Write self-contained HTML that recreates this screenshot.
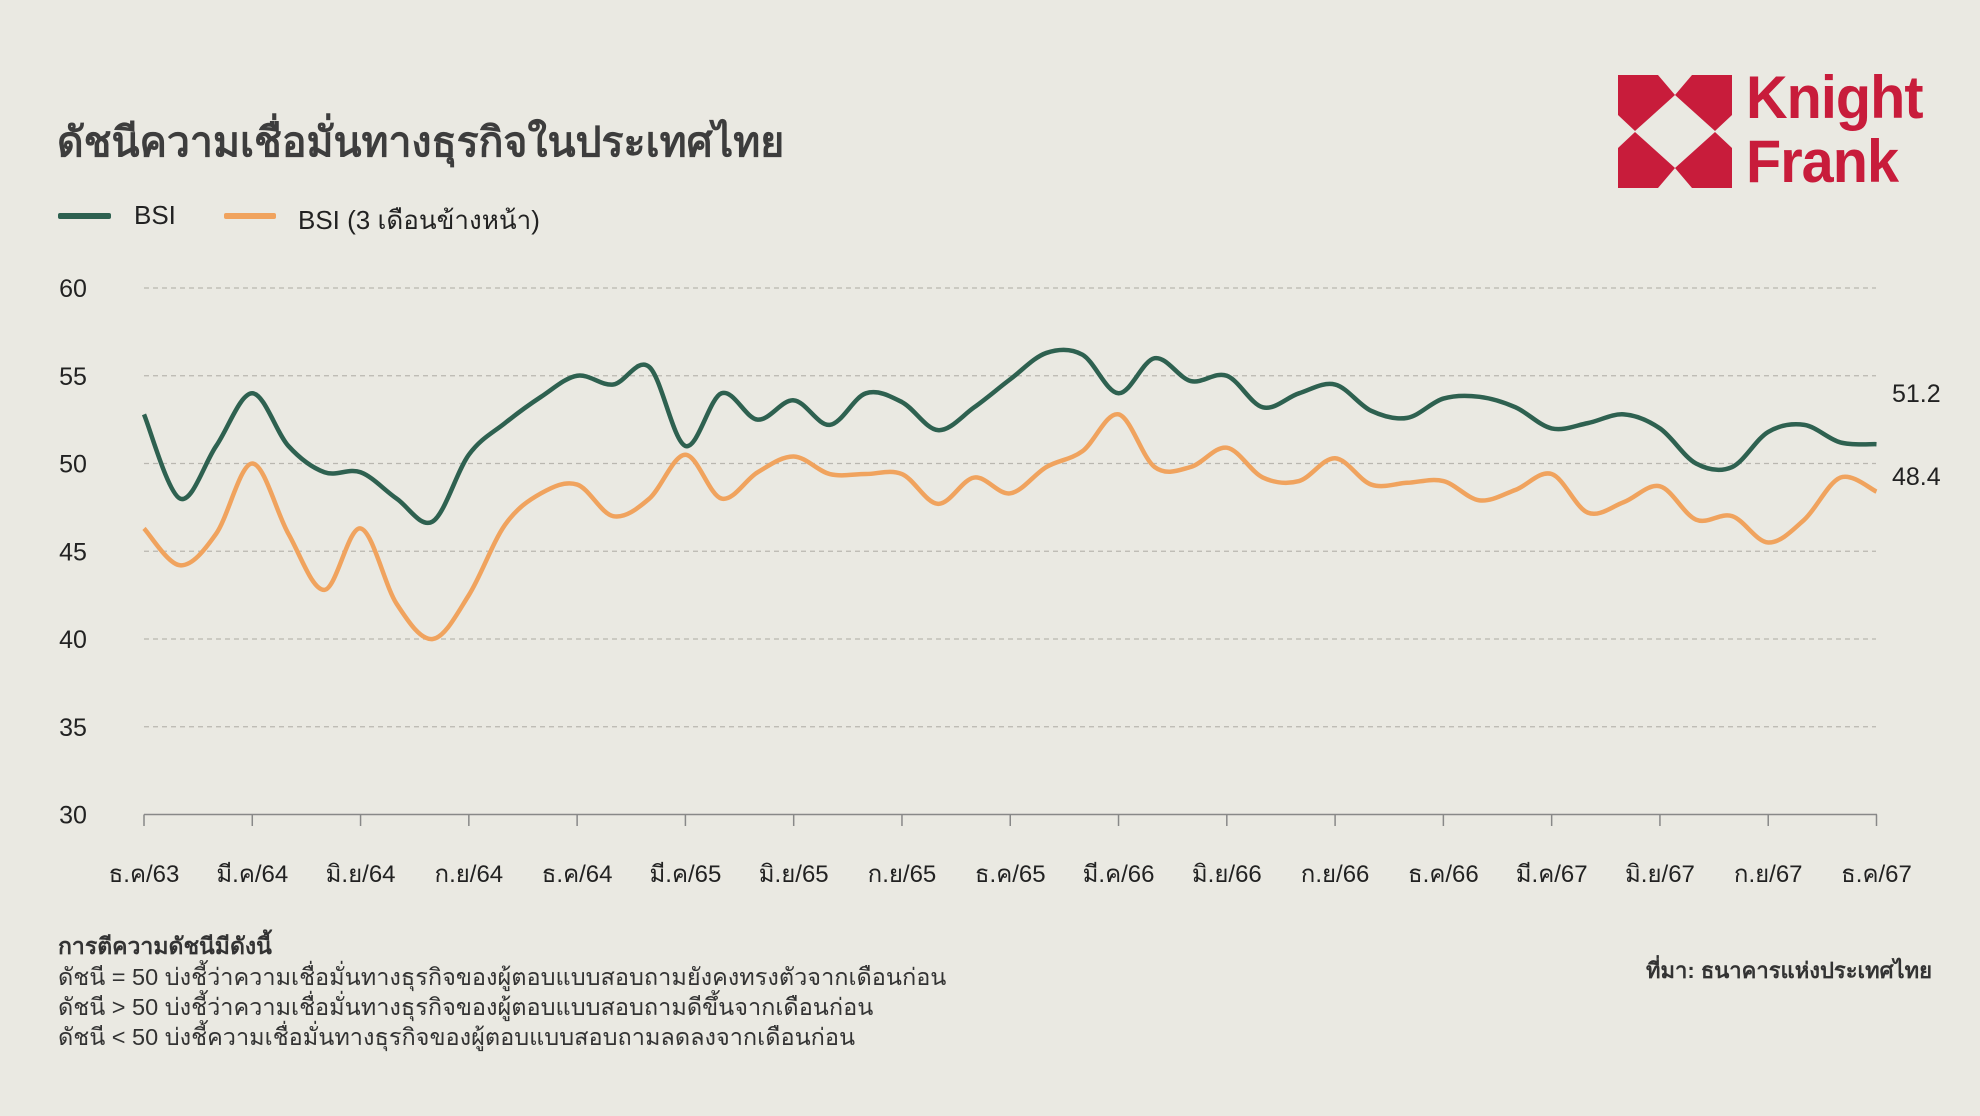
<!DOCTYPE html>
<html><head><meta charset="utf-8">
<style>
body{margin:0;width:1980px;height:1116px;background:#eae9e2;font-family:"Liberation Sans","DejaVu Sans",sans-serif;overflow:hidden;position:relative;color:#222}
.t{position:absolute;white-space:nowrap}
</style></head><body>
<div class="t" style="left:57px;top:110px;font-size:41px;font-weight:bold;color:#3d3d3d">ดัชนีความเชื่อมั่นทางธุรกิจในประเทศไทย</div>
<div style="position:absolute;left:58px;top:213px;width:53px;height:6px;background:#2e6150;border-radius:2px"></div>
<div class="t" style="left:134px;top:200px;font-size:26px">BSI</div>
<div style="position:absolute;left:224px;top:213px;width:52px;height:6px;background:#f0a35e;border-radius:2px"></div>
<div class="t" style="left:298px;top:200px;font-size:26px">BSI (3 เดือนข้างหน้า)</div>
<svg style="position:absolute;left:1618px;top:75px" width="114" height="113" viewBox="0 0 114 113">
<g fill="#c81c3b">
<polygon points="0,0 40,0 57,20 17,56 0,40"/>
<polygon points="114,0 74,0 57,20 97,56 114,40"/>
<polygon points="0,113 40,113 57,93 17,57 0,73"/>
<polygon points="114,113 74,113 57,93 97,57 114,73"/>
</g></svg>
<div class="t" style="left:1746px;top:66px;font-size:60px;font-weight:bold;color:#c81c3b;line-height:64px;letter-spacing:-1px;transform:scaleX(0.96);transform-origin:left">Knight<br>Frank</div>
<svg id="c" style="position:absolute;left:0;top:0" width="1980" height="1116"></svg>
<div class="t" style="left:58px;top:929px;font-size:23px;font-weight:bold;color:#333">การตีความดัชนีมีดังนี้</div>
<div class="t" style="left:58px;top:959px;font-size:23.5px;color:#333">ดัชนี = 50 บ่งชี้ว่าความเชื่อมั่นทางธุรกิจของผู้ตอบแบบสอบถามยังคงทรงตัวจากเดือนก่อน</div>
<div class="t" style="left:58px;top:989px;font-size:23.5px;color:#333">ดัชนี &gt; 50 บ่งชี้ว่าความเชื่อมั่นทางธุรกิจของผู้ตอบแบบสอบถามดีขึ้นจากเดือนก่อน</div>
<div class="t" style="left:58px;top:1019px;font-size:23.5px;color:#333">ดัชนี &lt; 50 บ่งชี้ความเชื่อมั่นทางธุรกิจของผู้ตอบแบบสอบถามลดลงจากเดือนก่อน</div>
<div class="t" style="right:48px;top:953px;font-size:22px;font-weight:bold;color:#333">ที่มา: ธนาคารแห่งประเทศไทย</div>
<script>
var s=document.getElementById('c'),h='';
var X0=144,DX=(1876.5-144)/48,Y=function(v){return 814.5-(v-30)*17.55};
for(var v=35;v<=60;v+=5)h+='<line x1="144" x2="1876" y1="'+Y(v)+'" y2="'+Y(v)+'" stroke="#b9b7b0" stroke-width="1.3" stroke-dasharray="5,4"/>';
for(var v=30;v<=60;v+=5)h+='<text x="73" y="'+(Y(v)+9)+'" font-size="25" text-anchor="middle" fill="#222">'+v+'</text>';
h+='<line x1="144" x2="1877" y1="814.5" y2="814.5" stroke="#888" stroke-width="1.5"/>';
var L=['ธ.ค/63','มี.ค/64','มิ.ย/64','ก.ย/64','ธ.ค/64','มี.ค/65','มิ.ย/65','ก.ย/65','ธ.ค/65','มี.ค/66','มิ.ย/66','ก.ย/66','ธ.ค/66','มี.ค/67','มิ.ย/67','ก.ย/67','ธ.ค/67'];
for(var i=0;i<17;i++){var x=X0+i*3*DX;h+='<line x1="'+x+'" x2="'+x+'" y1="814.5" y2="826" stroke="#888" stroke-width="1.5"/><text x="'+x+'" y="882" font-size="24" text-anchor="middle" fill="#222">'+L[i]+'</text>';}
var g=[52.8,48,51,54,51,49.5,49.5,48,46.7,50.5,52.3,53.8,55,54.5,55.5,51,54,52.5,53.6,52.2,54,53.5,51.9,53.2,54.8,56.3,56.2,54,56,54.7,55,53.2,54,54.5,53,52.6,53.7,53.8,53.2,52,52.3,52.8,52,50,49.8,51.8,52.2,51.2,51.1];
var o=[46.3,44.2,46,50,46,42.8,46.3,42,40,42.5,46.5,48.3,48.8,47,48,50.5,48,49.5,50.4,49.4,49.4,49.4,47.7,49.2,48.3,49.8,50.7,52.8,49.8,49.8,50.9,49.2,49,50.3,48.8,48.9,49,47.9,48.5,49.4,47.2,47.8,48.7,46.8,47,45.5,46.8,49.2,48.4];
function path(d){var p=d.map(function(v,i){return[X0+i*DX,Y(v)]});var r='M'+p[0][0]+','+p[0][1];
for(var i=0;i<p.length-1;i++){var a=p[Math.max(i-1,0)],b=p[i],c=p[i+1],e=p[Math.min(i+2,p.length-1)];
r+='C'+(b[0]+(c[0]-a[0])/6)+','+(b[1]+(c[1]-a[1])/6)+' '+(c[0]-(e[0]-b[0])/6)+','+(c[1]-(e[1]-b[1])/6)+' '+c[0]+','+c[1];}return r;}
h+='<path d="'+path(o)+'" fill="none" stroke="#f0a35e" stroke-width="4.5" stroke-linejoin="round"/>';
h+='<path d="'+path(g)+'" fill="none" stroke="#2e6150" stroke-width="4.5" stroke-linejoin="round"/>';
h+='<text x="1892" y="402" font-size="25" fill="#222">51.2</text><text x="1892" y="485" font-size="25" fill="#222">48.4</text>';
s.innerHTML=h;
</script>
</body></html>
